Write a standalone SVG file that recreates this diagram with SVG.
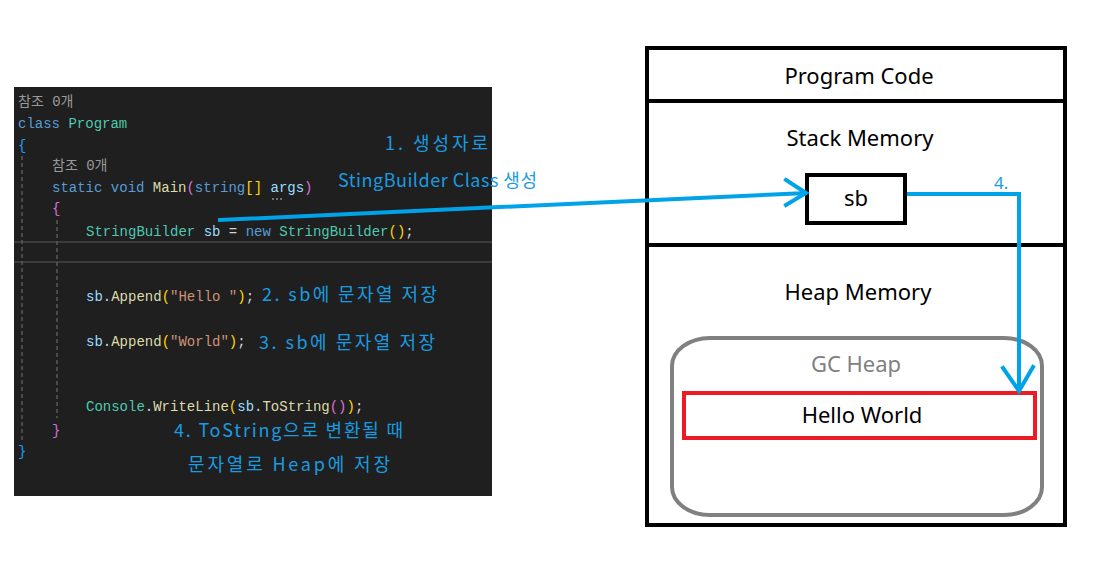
<svg xmlns="http://www.w3.org/2000/svg" width="1097" height="564" viewBox="0 0 1097 564">
<style>
.code{font-family:"Liberation Mono","Noto Sans CJK KR",monospace;font-size:14px;fill:#D4D4D4}
.lens{fill:#999999}
.kw{fill:#569CD6}
.cls{fill:#4EC9B0}
.fn{fill:#DCDCAA}
.var{fill:#9CDCFE}
.str{fill:#CE9178}
.b1{fill:#FFD700}
.b2{fill:#DA70D6}
.b3{fill:#179FFF}
.note{font-family:"Noto Sans CJK KR","Noto Sans",sans-serif;font-size:18px;fill:#1A9BE0}
.lbl{font-family:"Noto Sans","Noto Sans CJK KR",sans-serif;font-size:22px;fill:#000000;text-anchor:middle}
.guide{stroke:#5a5a5a;stroke-width:1.5;stroke-dasharray:4 3}
.blue{fill:none;stroke:#00A2E8;stroke-width:4;stroke-linecap:square;stroke-linejoin:miter}
</style>
<rect width="1097" height="564" fill="#ffffff"/>
<g id="code-panel">
<rect x="14" y="87" width="478" height="409" fill="#1F1F1F"/>
<line x1="14" y1="242" x2="492" y2="242" stroke="#3C3C3C" stroke-width="2"/>
<line x1="14" y1="262" x2="492" y2="262" stroke="#3C3C3C" stroke-width="2"/>
<line class="guide" x1="22" y1="156" x2="22" y2="442"/>
<line class="guide" x1="57" y1="220" x2="57" y2="418"/>
<text class="code" x="18" y="106"><tspan class="lens">참조 0개</tspan></text>
<text class="code" x="18" y="128"><tspan class="kw">class</tspan> <tspan class="cls">Program</tspan></text>
<text class="code" x="18" y="150"><tspan class="b3">{</tspan></text>
<text class="code" x="52" y="170"><tspan class="lens">참조 0개</tspan></text>
<text class="code" x="52" y="192"><tspan class="kw">static</tspan> <tspan class="kw">void</tspan> <tspan class="fn">Main</tspan><tspan class="b2">(</tspan><tspan class="kw">string</tspan><tspan class="b1">[]</tspan> <tspan class="var">args</tspan><tspan class="b2">)</tspan></text>
<circle cx="273" cy="199" r="0.9" fill="#999"/><circle cx="277" cy="199" r="0.9" fill="#999"/><circle cx="281" cy="199" r="0.9" fill="#999"/>
<text class="code" x="52" y="213"><tspan class="b2">{</tspan></text>
<text class="code" x="86" y="236"><tspan class="cls">StringBuilder</tspan> <tspan class="var">sb</tspan> = <tspan class="kw">new</tspan> <tspan class="cls">StringBuilder</tspan><tspan class="b1">()</tspan>;</text>
<text class="code" x="86" y="301"><tspan class="var">sb</tspan>.<tspan class="fn">Append</tspan><tspan class="b1">(</tspan><tspan class="str">"Hello "</tspan><tspan class="b1">)</tspan>;</text>
<text class="code" x="86" y="346"><tspan class="var">sb</tspan>.<tspan class="fn">Append</tspan><tspan class="b1">(</tspan><tspan class="str">"World"</tspan><tspan class="b1">)</tspan>;</text>
<text class="code" x="86" y="411"><tspan class="cls">Console</tspan>.<tspan class="fn">WriteLine</tspan><tspan class="b1">(</tspan><tspan class="var">sb</tspan>.<tspan class="fn">ToString</tspan><tspan class="b2">()</tspan><tspan class="b1">)</tspan>;</text>
<text class="code" x="52" y="435"><tspan class="b2">}</tspan></text>
<text class="code" x="18" y="456"><tspan class="b3">}</tspan></text>
</g>
<g id="notes">
<text class="note" x="385" y="150" textLength="103" lengthAdjust="spacing">1. 생성자로</text>
<text class="note" x="338" y="187" textLength="199" lengthAdjust="spacing">StingBuilder Class 생성</text>
<text class="note" x="262" y="301" textLength="175" lengthAdjust="spacing">2. sb에 문자열 저장</text>
<text class="note" x="259" y="349" textLength="176" lengthAdjust="spacing">3. sb에 문자열 저장</text>
<text class="note" x="174" y="437" textLength="229" lengthAdjust="spacing">4. ToString으로 변환될 때</text>
<text class="note" x="188" y="471" textLength="202" lengthAdjust="spacing">문자열로 Heap에 저장</text>
</g>
<g id="memory">
<rect x="647" y="48" width="418" height="477" fill="none" stroke="#000" stroke-width="4"/>
<line x1="647" y1="101" x2="1065" y2="101" stroke="#000" stroke-width="4"/>
<line x1="647" y1="245" x2="1065" y2="245" stroke="#000" stroke-width="4"/>
</g>
<g id="program-code"><text class="lbl" x="859" y="84">Program Code</text></g>
<g id="stack-memory"><text class="lbl" x="860" y="146">Stack Memory</text></g>
<g id="sb"><rect x="807" y="175" width="98" height="48" fill="#fff" stroke="#000" stroke-width="4"/><text class="lbl" x="856" y="206">sb</text></g>
<g id="heap-memory"><text class="lbl" x="858" y="300">Heap Memory</text></g>
<g id="gc-heap"><rect x="672" y="338" width="370" height="177" rx="38" ry="28" fill="none" stroke="#808080" stroke-width="4"/><text class="lbl" x="856" y="372" style="fill:#808080">GC Heap</text></g>
<g id="hello-world"><rect x="684" y="393" width="351" height="45" fill="none" stroke="#ED1C24" stroke-width="4"/><text class="lbl" x="862" y="423">Hello World</text></g>
<g id="connectors">
<path class="blue" d="M220,220 L805,193"/>
<path class="blue" d="M786,180 L806,193 L786,205"/>
<path class="blue" d="M909,194 L1019,194 L1019,390"/>
<path class="blue" d="M1003,368 L1019,391 L1033,367"/>
<text x="994" y="189" style="font-family:'Noto Sans',sans-serif;font-size:17px;fill:#1A9BE0">4.</text>
</g>
</svg>
